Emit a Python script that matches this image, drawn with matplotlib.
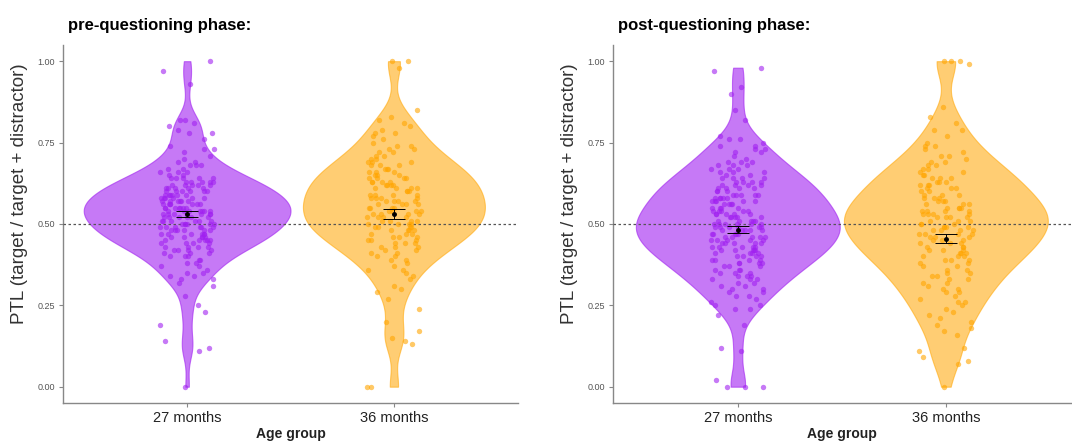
import numpy as np
import matplotlib
matplotlib.use("Agg")
import matplotlib.pyplot as plt

plt.rcParams['font.family'] = ['Liberation Sans', 'DejaVu Sans']

# --- data (PTL per child) ---
groups = ["27 months", "36 months"]
panel_titles = ["pre-questioning phase:", "post-questioning phase:"]

pre_27 = [1.00, 0.97, 0.93, 0.82, 0.82, 0.81, 0.80, 0.79, 0.78, 0.78, 0.76,
          0.74, 0.73, 0.73, 0.72, 0.71, 0.70,
          0.69, 0.69, 0.68, 0.68, 0.68, 0.67, 0.67, 0.66, 0.66, 0.66, 0.65, 0.65,
          0.64, 0.64, 0.64, 0.64, 0.64, 0.63, 0.63, 0.63, 0.63, 0.63,
          0.62, 0.62, 0.62, 0.62, 0.62, 0.61, 0.61, 0.61, 0.61, 0.61,
          0.60, 0.60, 0.60, 0.60, 0.60, 0.60,
          0.59, 0.59, 0.59, 0.59, 0.59, 0.59, 0.58, 0.58, 0.58, 0.58, 0.58, 0.58,
          0.57, 0.57, 0.57, 0.57, 0.57, 0.57, 0.56, 0.56, 0.56, 0.56, 0.56, 0.56, 0.56,
          0.55, 0.55, 0.55, 0.55, 0.55, 0.55, 0.55,
          0.54, 0.54, 0.54, 0.54, 0.54, 0.54, 0.54, 0.53, 0.53, 0.53, 0.53, 0.53, 0.53, 0.53,
          0.52, 0.52, 0.52, 0.52, 0.52, 0.52, 0.51, 0.51, 0.51, 0.51, 0.51, 0.51,
          0.50, 0.50, 0.50, 0.50, 0.50, 0.50,
          0.49, 0.49, 0.49, 0.49, 0.49, 0.49, 0.48, 0.48, 0.48, 0.48, 0.48, 0.48,
          0.47, 0.47, 0.47, 0.47, 0.47, 0.47, 0.46, 0.46, 0.46, 0.46, 0.46,
          0.45, 0.45, 0.45, 0.45, 0.45,
          0.44, 0.44, 0.44, 0.44, 0.43, 0.43, 0.43, 0.43, 0.42, 0.42, 0.42, 0.42,
          0.41, 0.41, 0.41, 0.40, 0.40, 0.40,
          0.39, 0.39, 0.38, 0.38, 0.37, 0.37, 0.36, 0.35, 0.35,
          0.34, 0.34, 0.33, 0.33, 0.32, 0.31,
          0.28, 0.25, 0.23, 0.19, 0.14, 0.12, 0.11, 0.00]

pre_36 = [1.00, 1.00, 0.98, 0.85, 0.83, 0.82, 0.81, 0.80,
          0.79, 0.78, 0.78, 0.77, 0.76, 0.75,
          0.74, 0.74, 0.73, 0.73, 0.72, 0.72, 0.71, 0.71, 0.70, 0.70,
          0.69, 0.69, 0.69, 0.68, 0.68, 0.68, 0.67, 0.67, 0.67, 0.66, 0.66, 0.66, 0.65, 0.65, 0.65,
          0.64, 0.64, 0.64, 0.64, 0.63, 0.63, 0.63, 0.63, 0.62, 0.62, 0.62, 0.62,
          0.61, 0.61, 0.61, 0.61, 0.60, 0.60, 0.60,
          0.59, 0.59, 0.59, 0.59, 0.58, 0.58, 0.58, 0.58, 0.57, 0.57, 0.57, 0.57,
          0.56, 0.56, 0.56, 0.56, 0.55, 0.55, 0.55, 0.55,
          0.54, 0.54, 0.54, 0.54, 0.53, 0.53, 0.53, 0.53, 0.52, 0.52, 0.52, 0.52,
          0.51, 0.51, 0.51, 0.51, 0.50, 0.50, 0.50, 0.50,
          0.49, 0.49, 0.49, 0.49, 0.48, 0.48, 0.48, 0.48, 0.47, 0.47, 0.47,
          0.46, 0.46, 0.46, 0.45, 0.45, 0.45,
          0.44, 0.44, 0.44, 0.43, 0.43, 0.43, 0.42, 0.42, 0.41, 0.41, 0.40, 0.40,
          0.39, 0.39, 0.38, 0.37, 0.36, 0.36, 0.35,
          0.34, 0.33, 0.31, 0.30,
          0.29, 0.27, 0.24, 0.20, 0.17, 0.15, 0.14, 0.13, 0.00, 0.00]

post_27 = [0.98, 0.97, 0.92, 0.90, 0.85, 0.82, 0.77, 0.76, 0.76, 0.75,
           0.74, 0.74, 0.73, 0.73, 0.72, 0.72, 0.71, 0.70,
           0.69, 0.69, 0.69, 0.68, 0.68, 0.68, 0.67, 0.67, 0.67, 0.66, 0.66, 0.66, 0.65, 0.65,
           0.64, 0.64, 0.64, 0.64, 0.63, 0.63, 0.63, 0.63, 0.62, 0.62, 0.62, 0.62,
           0.61, 0.61, 0.61, 0.61, 0.60, 0.60, 0.60,
           0.59, 0.59, 0.59, 0.59, 0.59, 0.58, 0.58, 0.58, 0.58, 0.58,
           0.57, 0.57, 0.57, 0.57, 0.57, 0.56, 0.56, 0.56, 0.56, 0.55, 0.55, 0.55, 0.55,
           0.54, 0.54, 0.54, 0.54, 0.54, 0.53, 0.53, 0.53, 0.53, 0.53,
           0.52, 0.52, 0.52, 0.52, 0.52, 0.51, 0.51, 0.51, 0.51, 0.51,
           0.50, 0.50, 0.50, 0.50, 0.50, 0.50,
           0.49, 0.49, 0.49, 0.49, 0.49, 0.49, 0.48, 0.48, 0.48, 0.48, 0.48,
           0.47, 0.47, 0.47, 0.47, 0.47, 0.46, 0.46, 0.46, 0.46, 0.46,
           0.45, 0.45, 0.45, 0.45, 0.45,
           0.44, 0.44, 0.44, 0.44, 0.44, 0.43, 0.43, 0.43, 0.43, 0.43,
           0.42, 0.42, 0.42, 0.42, 0.42, 0.41, 0.41, 0.41, 0.41, 0.40, 0.40, 0.40, 0.40,
           0.39, 0.39, 0.39, 0.39, 0.38, 0.38, 0.38, 0.38, 0.37, 0.37, 0.37,
           0.36, 0.36, 0.36, 0.35, 0.35, 0.35,
           0.34, 0.34, 0.34, 0.33, 0.33, 0.33, 0.32, 0.32, 0.31, 0.31, 0.30, 0.30,
           0.29, 0.29, 0.28, 0.28, 0.27, 0.26, 0.25, 0.25,
           0.24, 0.24, 0.22, 0.19, 0.12, 0.11, 0.02, 0.00, 0.00, 0.00]

post_36 = [1.00, 1.00, 1.00, 0.99, 0.86, 0.83, 0.81,
           0.79, 0.79, 0.77, 0.75,
           0.74, 0.74, 0.73, 0.72, 0.71, 0.71, 0.70,
           0.69, 0.69, 0.68, 0.68, 0.67, 0.67, 0.66, 0.66, 0.65, 0.65,
           0.64, 0.64, 0.64, 0.63, 0.63, 0.63, 0.62, 0.62, 0.62, 0.61, 0.61, 0.61, 0.60, 0.60,
           0.59, 0.59, 0.59, 0.58, 0.58, 0.58, 0.57, 0.57, 0.57, 0.56, 0.56, 0.56,
           0.55, 0.55, 0.55, 0.55,
           0.54, 0.54, 0.54, 0.54, 0.53, 0.53, 0.53, 0.53, 0.52, 0.52, 0.52, 0.52,
           0.51, 0.51, 0.51, 0.50, 0.50, 0.50,
           0.49, 0.49, 0.49, 0.49, 0.48, 0.48, 0.48, 0.48, 0.47, 0.47, 0.47, 0.47,
           0.46, 0.46, 0.46, 0.45, 0.45, 0.45,
           0.44, 0.44, 0.44, 0.43, 0.43, 0.43, 0.42, 0.42, 0.42, 0.41, 0.41, 0.41,
           0.40, 0.40, 0.40,
           0.39, 0.39, 0.39, 0.38, 0.38, 0.37, 0.37, 0.36, 0.36, 0.35, 0.35,
           0.34, 0.34, 0.33, 0.33, 0.32, 0.32, 0.31, 0.30, 0.30,
           0.29, 0.29, 0.28, 0.27, 0.26, 0.26, 0.25,
           0.24, 0.23, 0.22, 0.21, 0.20, 0.19, 0.18, 0.17, 0.16,
           0.12, 0.11, 0.09, 0.08, 0.07, 0.00]

# group means and standard errors as shown
pre_means = [0.530, 0.530]
pre_se = [0.010, 0.015]
post_means = [0.482, 0.455]
post_se = [0.011, 0.015]

colors = ["#A020F0", "#FFA500"]
fill_alpha = [0.6, 0.55]

panels = [
    (panel_titles[0], [pre_27, pre_36], pre_means, pre_se, [1.00, 0.88]),
    (panel_titles[1], [post_27, post_36], post_means, post_se, [0.98, 0.98]),
]
axes_rects = [[0.0588, 0.0862, 0.4244, 0.812], [0.5718, 0.0862, 0.427, 0.812]]


def jitter(n, k, half=0.13):
    # deterministic horizontal scatter, like geom_jitter
    i = np.arange(n) + 1 + 37 * k
    u = np.sin(i * 12.9898) * 43758.5453
    return (u - np.floor(u) - 0.5) * 2 * half


fig = plt.figure(figsize=(10.72, 4.41), dpi=100)

for rect, (title, data, means, ses, widths) in zip(axes_rects, panels):
    ax = fig.add_axes(rect)
    pos = [1, 2]
    parts = ax.violinplot(data, positions=pos, widths=widths, showextrema=False,
                          bw_method=0.27, points=300)
    for body, c, a in zip(parts['bodies'], colors, fill_alpha):
        body.set_facecolor(c)
        body.set_alpha(a)
        body.set_edgecolor(c)
        body.set_linewidth(0.8)

    ax.axhline(0.5, color="#555555", linestyle=(0, (2, 2)), linewidth=0.9, zorder=3)

    # jittered raw points
    for k, (p, vals, c) in enumerate(zip(pos, data, colors)):
        vals = np.asarray(vals)
        ax.scatter(p + jitter(len(vals), k), vals, s=15, color=c, alpha=0.6,
                   linewidths=0, zorder=4)

    ax.errorbar(pos, means, yerr=ses, fmt='o', color='black', markersize=2.5,
                elinewidth=0.7, capsize=8, capthick=0.7, zorder=5)

    ax.set_xlim(0.4, 2.6)
    ax.set_ylim(-0.05, 1.05)
    ax.set_yticks([0, 0.25, 0.5, 0.75, 1.0])
    ax.set_yticklabels(["0.00", "0.25", "0.50", "0.75", "1.00"], fontsize=6.5, color="#555555")
    ax.set_xticks(pos)
    ax.set_xticklabels(groups, fontsize=10.5, color="#222222")
    ax.tick_params(axis='y', length=3, color="#888888", pad=3)
    ax.tick_params(axis='x', length=3, color="#888888", pad=3)
    for s in ["top", "right"]:
        ax.spines[s].set_visible(False)
    for s in ["left", "bottom"]:
        ax.spines[s].set_color("#888888")
        ax.spines[s].set_linewidth(1.0)
    ax.set_ylabel("PTL (target / target + distractor)", fontsize=13.5, color="#333333")
    ax.yaxis.set_label_coords(-0.076, 0.584)
    ax.set_xlabel("Age group", fontsize=10, fontweight='bold', color="#222222", labelpad=1)
    ax.set_title(title, loc='left', fontsize=12, fontweight='bold', x=0.01, pad=11)

fig.savefig("out.png", dpi=100)
